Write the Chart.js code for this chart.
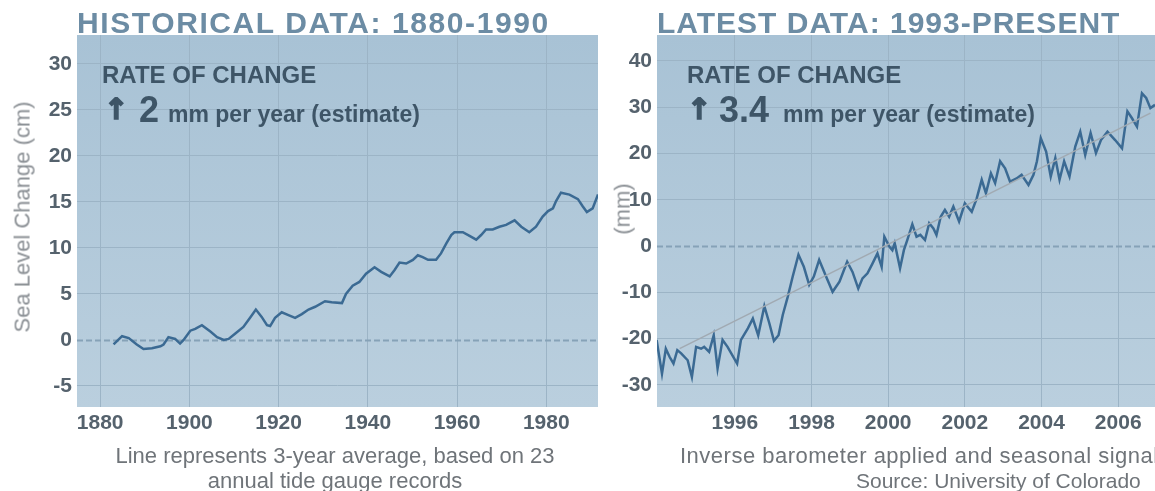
<!DOCTYPE html>
<html>
<head>
<meta charset="utf-8">
<script src="https://cdn.jsdelivr.net/npm/chart.js@4.4.1/dist/chart.umd.min.js"></script>
<style>
  html, body { margin: 0; padding: 0; background: #fff; overflow: hidden; }
  body { width: 1155px; height: 491px; position: relative; font-family: "Liberation Sans", Arial, sans-serif; }
  canvas { position: absolute; top: 0; }
  .txt { position: absolute; white-space: nowrap; line-height: 1; }
  .head { font-size: 30px; font-weight: bold; color: #6c8ca4; letter-spacing: 1px; top: 8px; }
  .rate { font-size: 24px; font-weight: bold; color: #3e5567; top: 63px; }
  .arrow { font-family: "DejaVu Sans", sans-serif; font-size: 29px; font-weight: bold; color: #3e5567; top: 95px; -webkit-text-stroke: 1.6px #3e5567; }
  .big { font-size: 36px; font-weight: bold; color: #3e5567; top: 92px; }
  .unit { font-size: 23px; font-weight: bold; color: #3e5567; top: 103px; }
  .axt { font-size: 22px; color: #8a8f94; transform: rotate(-90deg); transform-origin: center center; }
  .cap { font-size: 22px; color: #6f7479; }
</style>
</head>
<body>
<canvas id="histChart" width="600" height="491" style="left:0"></canvas>
<canvas id="satChart" width="555" height="491" style="left:600px"></canvas>

<div class="txt head" style="left:77px;letter-spacing:1.6px">HISTORICAL DATA: 1880-1990</div>
<div class="txt head" style="left:657px">LATEST DATA: 1993-PRESENT</div>

<div class="txt rate" style="left:102px">RATE OF CHANGE</div>
<div class="txt arrow" style="left:104px">↑</div>
<div class="txt big" style="left:139px">2</div>
<div class="txt unit" style="left:168px">mm per year (estimate)</div>

<div class="txt rate" style="left:687px">RATE OF CHANGE</div>
<div class="txt arrow" style="left:687px">↑</div>
<div class="txt big" style="left:719px">3.4</div>
<div class="txt unit" style="left:783px">mm per year (estimate)</div>

<div class="txt axt" id="histAxisTitle">Sea Level Change (cm)</div>
<div class="txt axt" id="satAxisTitle">(mm)</div>

<div class="txt cap" style="left:60px;width:550px;text-align:center;top:445px">Line represents 3-year average, based on 23</div>
<div class="txt cap" style="left:60px;width:550px;text-align:center;top:470px">annual tide gauge records</div>
<div class="txt cap" style="left:680px;top:445px;letter-spacing:0.5px">Inverse barometer applied and seasonal signal removed</div>
<div class="txt cap" style="left:856px;top:470px;font-size:21px">Source: University of Colorado</div>

<script>
// tide gauge record, 3-year average (cm)
const histYears = [1883.0, 1884.9, 1886.4, 1888.2, 1889.7, 1891.6, 1893.5, 1894.2, 1895.3, 1896.8,
  1897.9, 1898.7, 1900.2, 1901.3, 1902.8, 1904.7, 1906.2, 1907.7, 1908.8, 1910.3,
  1912.1, 1913.6, 1914.9, 1916.2, 1917.4, 1918.1, 1919.2, 1920.7, 1922.2, 1923.7,
  1925.2, 1926.7, 1928.2, 1930.4, 1931.9, 1934.2, 1935.1, 1936.6, 1938.1, 1939.6,
  1941.5, 1943.0, 1944.9, 1946.0, 1947.1, 1948.6, 1950.1, 1951.2, 1952.3, 1953.5,
  1955.3, 1956.4, 1957.6, 1958.7, 1959.4, 1961.3, 1962.8, 1964.3, 1965.4, 1966.5,
  1968.0, 1969.5, 1971.0, 1972.9, 1974.4, 1976.2, 1977.7, 1979.2, 1980.4, 1981.5,
  1982.2, 1983.3, 1985.2, 1987.1, 1988.2, 1989.1, 1990.4, 1991.6];
const histLevel = [-0.5, 0.4, 0.2, -0.5, -1.0, -0.9, -0.7, -0.5, 0.3, 0.1,
  -0.4, 0.0, 1.0, 1.2, 1.6, 0.9, 0.3, 0.0, 0.1, 0.7,
  1.4, 2.4, 3.3, 2.5, 1.6, 1.5, 2.4, 3.0, 2.7, 2.4,
  2.8, 3.3, 3.6, 4.2, 4.1, 4.0, 5.0, 5.9, 6.3, 7.2,
  7.9, 7.4, 6.9, 7.6, 8.4, 8.3, 8.7, 9.2, 9.0, 8.7,
  8.7, 9.4, 10.5, 11.4, 11.7, 11.7, 11.3, 10.9, 11.4, 12.0,
  12.0, 12.3, 12.5, 13.0, 12.3, 11.7, 12.3, 13.4, 14.0, 14.3,
  15.1, 16.0, 15.8, 15.3, 14.5, 13.9, 14.3, 15.8];
const histTicks = [1880, 1900, 1920, 1940, 1960, 1980];

// satellite altimetry (mm)
const satYears = [1993.96, 1994.1, 1994.2, 1994.3, 1994.4, 1994.5, 1994.6, 1994.77, 1994.88, 1994.99,
  1995.12, 1995.2, 1995.33, 1995.45, 1995.55, 1995.68, 1995.81, 1996.06, 1996.16, 1996.34,
  1996.47, 1996.61, 1996.77, 1996.9, 1997.02, 1997.14, 1997.25, 1997.38, 1997.51, 1997.66,
  1997.8, 1997.94, 1998.06, 1998.2, 1998.38, 1998.55, 1998.73, 1998.93, 1999.07, 1999.22,
  1999.33, 1999.46, 1999.59, 1999.72, 1999.83, 1999.9, 2000.03, 2000.11, 2000.17, 2000.31,
  2000.41, 2000.5, 2000.63, 2000.74, 2000.84, 2000.96, 2001.07, 2001.18, 2001.26, 2001.37,
  2001.48, 2001.59, 2001.7, 2001.85, 2002.0, 2002.18, 2002.31, 2002.44, 2002.55, 2002.68,
  2002.79, 2002.92, 2003.05, 2003.18, 2003.35, 2003.48, 2003.66, 2003.79, 2003.88, 2003.98,
  2004.12, 2004.24, 2004.36, 2004.47, 2004.59, 2004.73, 2004.88, 2005.01, 2005.14, 2005.28,
  2005.42, 2005.55, 2005.72, 2005.92, 2006.1, 2006.24, 2006.36, 2006.49, 2006.62, 2006.73,
  2006.84, 2006.96];
const satLevel = [-20.3, -27.6, -22.2, -24.0, -25.4, -22.5, -23.2, -24.7, -28.3, -21.8,
  -22.2, -21.8, -22.9, -19.3, -26.5, -20.3, -21.8, -25.4, -20.3, -17.8,
  -15.7, -19.3, -13.0, -16.7, -20.5, -19.3, -14.9, -11.0, -6.6, -1.9,
  -4.5, -8.4, -6.6, -3.0, -6.6, -9.9, -7.7, -3.4, -5.6, -9.2,
  -7.0, -5.9, -3.8, -1.6, -4.5, 2.0, -0.1, -0.9, 0.6, -4.8,
  -0.9, 1.3, 4.7, 2.0, 2.4, 1.3, 4.9, 3.8, 2.4, 6.3,
  7.8, 6.3, 8.5, 5.3, 9.2, 7.4, 10.3, 14.3, 11.4, 15.7,
  13.6, 18.3, 16.8, 13.9, 14.6, 15.4, 13.2, 15.4, 18.3, 23.3,
  20.4, 15.0, 19.0, 14.3, 18.3, 15.0, 21.5, 24.7, 19.7, 24.4,
  20.1, 22.9, 24.7, 22.9, 21.1, 29.1, 27.6, 25.8, 33.0, 32.0,
  29.8, 30.5];
const trendYears = [1994.56, 2006.84];
const trendLevel = [-22.2, 28.7];
const satTicks = [1996, 1998, 2000, 2002, 2004, 2006];

const lineColor = '#3b6a93';
const gridColor = '#9cb4c6';
const tickFont = { family: 'Liberation Sans, Arial, sans-serif', size: 21, weight: 'bold' };
const tickColor = '#55626d';

function toPoints(xs, ys) {
  return xs.map(function (x, i) { return { x: x, y: ys[i] }; });
}

// light blue panel behind the plot area, dashed zero line on top of the grid
const panelPlugin = {
  id: 'panel',
  beforeDraw: function (chart) {
    const a = chart.chartArea;
    const ctx = chart.ctx;
    const g = ctx.createLinearGradient(0, a.top, 0, a.bottom);
    g.addColorStop(0, '#a8c2d5');
    g.addColorStop(1, '#bacfde');
    ctx.save();
    ctx.fillStyle = g;
    ctx.fillRect(a.left, a.top, a.right - a.left, a.bottom - a.top);
    ctx.restore();
  },
  beforeDatasetsDraw: function (chart) {
    const a = chart.chartArea;
    const ctx = chart.ctx;
    const y = Math.round(chart.scales.y.getPixelForValue(0)) + 0.5;
    ctx.save();
    ctx.strokeStyle = '#86a2b7';
    ctx.lineWidth = 2;
    ctx.setLineDash([6, 3]);
    ctx.beginPath();
    ctx.moveTo(a.left, y);
    ctx.lineTo(a.right, y);
    ctx.stroke();
    ctx.restore();
  }
};

function buildOptions(cfg) {
  return {
    responsive: false,
    animation: false,
    layout: { padding: { top: 35, right: cfg.padRight, left: 0, bottom: 0 } },
    plugins: { legend: { display: false }, tooltip: { enabled: false } },
    elements: { point: { radius: 0 } },
    scales: {
      x: {
        type: 'linear',
        min: cfg.xMin,
        max: cfg.xMax,
        afterBuildTicks: function (scale) {
          scale.ticks = cfg.xTicks.map(function (v) { return { value: v }; });
        },
        afterFit: function (scale) { scale.height = 84; },
        ticks: { font: tickFont, color: tickColor, padding: 4, maxRotation: 0, autoSkip: false,
          callback: function (v) { return String(v); } },
        grid: { color: gridColor, drawTicks: false },
        border: { display: false }
      },
      y: {
        min: cfg.yMin,
        max: cfg.yMax,
        afterFit: function (scale) { scale.width = cfg.yWidth; },
        ticks: { stepSize: cfg.yStep, includeBounds: false, font: tickFont, color: tickColor, padding: 5 },
        grid: {
          drawTicks: false,
          color: function (c) { return c.tick && c.tick.value === 0 ? 'rgba(0,0,0,0)' : gridColor; }
        },
        border: { display: false }
      }
    }
  };
}

new Chart(document.getElementById('histChart'), {
  type: 'line',
  data: {
    datasets: [{
      data: toPoints(histYears, histLevel),
      borderColor: lineColor,
      borderWidth: 2.5,
      tension: 0
    }]
  },
  options: buildOptions({ xMin: 1874.8, xMax: 1991.6, xTicks: histTicks, yMin: -7.3, yMax: 33.15, yStep: 5, yWidth: 77, padRight: 2 }),
  plugins: [panelPlugin]
});

new Chart(document.getElementById('satChart'), {
  type: 'line',
  data: {
    datasets: [{
      data: toPoints(trendYears, trendLevel),
      borderColor: '#a1aab2',
      borderWidth: 1.5,
      tension: 0
    }, {
      data: toPoints(satYears, satLevel),
      borderColor: lineColor,
      borderWidth: 2.5,
      tension: 0
    }]
  },
  options: buildOptions({ xMin: 1993.97, xMax: 2006.96, xTicks: satTicks, yMin: -34.8, yMax: 45.6, yStep: 10, yWidth: 57, padRight: 0 }),
  plugins: [panelPlugin]
});

// rotated axis titles, centred on the measured positions
function placeRotated(id, cx, cy) {
  const el = document.getElementById(id);
  const w = el.offsetWidth, h = el.offsetHeight;
  el.style.left = (cx - w / 2) + 'px';
  el.style.top = (cy - h / 2) + 'px';
}
placeRotated('histAxisTitle', 22, 217);
placeRotated('satAxisTitle', 622, 209);
</script>
</body>
</html>
